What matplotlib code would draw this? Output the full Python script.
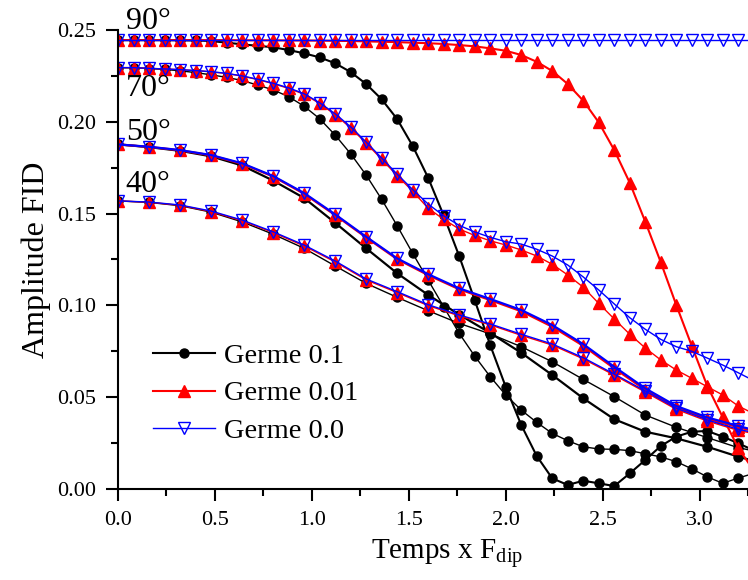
import numpy as np
import matplotlib
matplotlib.use("Agg")
import matplotlib.pyplot as plt
from matplotlib.ticker import MultipleLocator, FormatStrFormatter

plt.rcParams['font.family'] = ['Liberation Serif', 'DejaVu Serif']
plt.rcParams['mathtext.fontset'] = 'custom'
plt.rcParams['mathtext.rm'] = 'Liberation Serif'
plt.rcParams['mathtext.it'] = 'Liberation Serif:italic'

# time grid (t x Fdip): 0.08 step for 90/70 deg, 0.16 step for 50/40 deg
t_fine = np.round(np.arange(42) * 0.08, 2)
t_coarse = np.round(np.arange(22) * 0.16, 2)

# ---- 90 deg
g90_01 = [0.2445, 0.2445, 0.2445, 0.2445, 0.2444, 0.2443, 0.2440, 0.2431, 0.2422, 0.2414,
          0.2406, 0.2391, 0.2373, 0.2351, 0.2319, 0.2271, 0.2206, 0.2123, 0.2015, 0.1869,
          0.1695, 0.1490, 0.1269, 0.1029, 0.0784, 0.0557, 0.0349, 0.0180, 0.0058, 0.0022,
          0.0045, 0.0031, 0.0016, 0.0085, 0.0158, 0.0234, 0.0285, 0.0312, 0.0316, 0.0285,
          0.0249, 0.0210]
g90_001 = [0.2445, 0.2445, 0.2445, 0.2445, 0.2445, 0.2445, 0.2445, 0.2445, 0.2444, 0.2444,
           0.2444, 0.2443, 0.2443, 0.2442, 0.2441, 0.2440, 0.2438, 0.2436, 0.2434, 0.2431,
           0.2428, 0.2424, 0.2418, 0.2411, 0.2400, 0.2387, 0.2364, 0.2327, 0.2277, 0.2206,
           0.2115, 0.1997, 0.1846, 0.1668, 0.1456, 0.1235, 0.1002, 0.0779, 0.0561, 0.0390,
           0.0223, 0.0100]
g90_00 = [0.2445] * 42

# ---- 70 deg
g70_01 = [0.2295, 0.2294, 0.2290, 0.2285, 0.2278, 0.2268, 0.2256, 0.2242, 0.2225, 0.2200,
          0.2174, 0.2137, 0.2085, 0.2017, 0.1928, 0.1826, 0.1710, 0.1578, 0.1434, 0.1284,
          0.1138, 0.0993, 0.0848, 0.0724, 0.0612, 0.0512, 0.0430, 0.0363, 0.0303, 0.0263,
          0.0230, 0.0218, 0.0216, 0.0209, 0.0192, 0.0175, 0.0149, 0.0110, 0.0066, 0.0031,
          0.0060, 0.0085]
g70_001 = [0.2295, 0.2295, 0.2291, 0.2288, 0.2284, 0.2279, 0.2272, 0.2263, 0.2249, 0.2230,
           0.2208, 0.2182, 0.2150, 0.2100, 0.2039, 0.1967, 0.1884, 0.1796, 0.1707, 0.1622,
           0.1529, 0.1469, 0.1416, 0.1381, 0.1352, 0.1329, 0.1302, 0.1269, 0.1224, 0.1166,
           0.1099, 0.1011, 0.0926, 0.0843, 0.0768, 0.0703, 0.0648, 0.0603, 0.0557, 0.0512,
           0.0452, 0.0410]
g70_00 = [0.2295, 0.2295, 0.2291, 0.2288, 0.2284, 0.2279, 0.2273, 0.2264, 0.2250, 0.2232,
          0.2210, 0.2185, 0.2153, 0.2104, 0.2044, 0.1973, 0.1890, 0.1803, 0.1715, 0.1631,
          0.1552, 0.1488, 0.1436, 0.1400, 0.1371, 0.1347, 0.1334, 0.1306, 0.1269, 0.1220,
          0.1155, 0.1084, 0.1008, 0.0933, 0.0870, 0.0815, 0.0775, 0.0750, 0.0713, 0.0675,
          0.0633, 0.0590]

# ---- 50 deg
g50_01 = [0.1877, 0.1862, 0.1842, 0.1812, 0.1762, 0.1680, 0.1585, 0.1450, 0.1311, 0.1175,
          0.1057, 0.0950, 0.0850, 0.0742, 0.0621, 0.0494, 0.0380, 0.0312, 0.0276, 0.0230,
          0.0176, 0.0130]
g50_001 = [0.1877, 0.1863, 0.1845, 0.1817, 0.1771, 0.1702, 0.1608, 0.1492, 0.1370, 0.1252,
           0.1165, 0.1088, 0.1029, 0.0968, 0.0884, 0.0780, 0.0657, 0.0540, 0.0444, 0.0383,
           0.0336, 0.0295]
g50_00 = [0.1877, 0.1864, 0.1846, 0.1819, 0.1774, 0.1705, 0.1612, 0.1496, 0.1374, 0.1256,
          0.1170, 0.1093, 0.1035, 0.0975, 0.0893, 0.0789, 0.0666, 0.0548, 0.0452, 0.0390,
          0.0343, 0.0300]

# ---- 40 deg
g40_01 = [0.1569, 0.1561, 0.1543, 0.1508, 0.1455, 0.1388, 0.1311, 0.1215, 0.1120, 0.1044,
          0.0971, 0.0902, 0.0845, 0.0775, 0.0693, 0.0597, 0.0503, 0.0403, 0.0336, 0.0280,
          0.0225, 0.0190]
g40_001 = [0.1569, 0.1562, 0.1545, 0.1511, 0.1461, 0.1397, 0.1324, 0.1237, 0.1139, 0.1070,
           0.0999, 0.0943, 0.0894, 0.0837, 0.0784, 0.0709, 0.0620, 0.0528, 0.0434, 0.0370,
           0.0319, 0.0285]
g40_00 = [0.1569, 0.1563, 0.1547, 0.1514, 0.1465, 0.1401, 0.1329, 0.1242, 0.1144, 0.1075,
          0.1004, 0.0948, 0.0899, 0.0843, 0.0790, 0.0715, 0.0626, 0.0534, 0.0440, 0.0376,
          0.0325, 0.0290]

angle_labels = ["90°", "70°", "50°", "40°"]
angle_label_y = [0.2545, 0.2184, 0.1944, 0.1656]

fig = plt.figure(figsize=(7.48, 5.8), dpi=100)
ax = fig.add_axes([118 / 748, 1 - 489 / 580, 630 / 748, 459 / 580])

groups = [
    (t_fine, g90_01, g90_001, g90_00, 1.5),
    (t_fine, g70_01, g70_001, g70_00, 1.0),
    (t_coarse, g50_01, g50_001, g50_00, 1.6),
    (t_coarse, g40_01, g40_001, g40_00, 1.0),
]

for i, (t, b, r, bl, lw) in enumerate(groups):
    ax.plot(t, b, color="black", lw=lw, marker="o", ms=6.5,
            label="Germe 0.1" if i == 0 else None)
for i, (t, b, r, bl, lw) in enumerate(groups):
    ax.plot(t, r, color="#ff0000", lw=lw, marker="^", ms=8,
            label="Germe 0.01" if i == 0 else None)
for i, (t, b, r, bl, lw) in enumerate(groups):
    ax.plot(t, bl, color="#0000ff", lw=1.0 if i == 0 else lw, marker="v", ms=8,
            mfc="none", mew=1.0, label="Germe 0.0" if i == 0 else None)

for lab, yv in zip(angle_labels, angle_label_y):
    ax.text(0.04, yv, lab, fontsize=23, va="center", ha="left", clip_on=False)

ax.set_xlim(0, 3.25)
ax.set_ylim(0, 0.25)
ax.xaxis.set_major_locator(MultipleLocator(0.5))
ax.xaxis.set_minor_locator(MultipleLocator(0.25))
ax.yaxis.set_major_locator(MultipleLocator(0.05))
ax.yaxis.set_minor_locator(MultipleLocator(0.025))
ax.xaxis.set_major_formatter(FormatStrFormatter("%.1f"))
ax.yaxis.set_major_formatter(FormatStrFormatter("%.2f"))

ax.spines["top"].set_visible(False)
ax.spines["right"].set_visible(False)
ax.spines["left"].set_linewidth(1.5)
ax.spines["bottom"].set_linewidth(1.5)
ax.tick_params(which="major", direction="out", length=8.5, width=1.5,
               labelsize=16, pad=7)
ax.tick_params(which="minor", direction="out", length=5, width=1.5)

ax.set_xlabel("Temps x F$_{\\mathrm{dip}}$", fontsize=21)
ax.xaxis.set_label_coords(0.523, -0.105)
ax.set_ylabel("Amplitude FID", fontsize=23, labelpad=5)

ax.legend(loc="center left", bbox_to_anchor=(0.055, 0.208), frameon=False,
          fontsize=20.5, numpoints=1, handlelength=2.2, handletextpad=0.3,
          labelspacing=0.42, borderpad=0, borderaxespad=0)

fig.savefig("out.png", dpi=100)
